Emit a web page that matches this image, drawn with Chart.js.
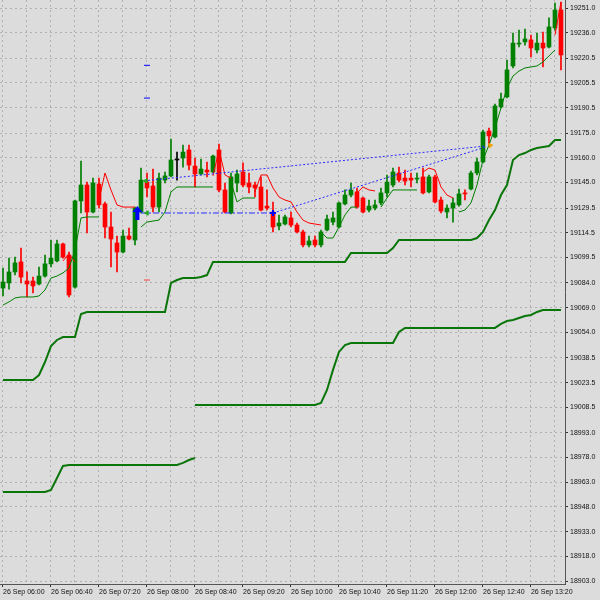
<!DOCTYPE html>
<html><head><meta charset="utf-8">
<script src="https://cdn.jsdelivr.net/npm/chart.js@4.4.0/dist/chart.umd.min.js"></script>
<style>html,body{margin:0;padding:0;background:#dcdcdc;}#wrap{width:600px;height:600px;position:relative;}</style>
</head><body><div id="wrap"><canvas id="c"></canvas></div>
<script>
// ---- candle data (5-minute bars, 26 Sep 06:00 onward) ----
const open=[19080.9,19084.0,19090.7,19096.8,19085.2,19085.2,19083.4,19088.2,19095.6,19097.4,
19107.7,19101.0,19081.5,19133.8,19143.5,19127.1,19144.1,19132.0,19118.0,19108.3,
19102.8,19112.5,19110.1,19127.1,19145.3,19142.9,19130.1,19146.5,19149.0,19158.7,
19159.9,19164.8,19155.0,19150.2,19152.6,19151.4,19164.8,19140.5,19126.5,19144.7,
19151.4,19144.7,19143.5,19142.3,19130.7,19127.1,19118.6,19119.8,19123.5,19119.2,
19115.0,19107.1,19110.1,19107.1,19116.2,19121.0,19118.0,19132.0,19137.4,19139.3,
19135.6,19128.3,19129.5,19132.6,19138.7,19143.5,19150.8,19147.7,19147.7,19147.1,
19148.4,19139.3,19148.4,19134.4,19127.1,19129.5,19131.4,19138.7,19141.1,19150.8,
19157.5,19176.3,19172.7,19190.9,19197.0,19215.8,19229.1,19230.4,19231.6,19225.5,
19229.7,19227.3,19238.9,19249.8];
const close=[19084.6,19090.7,19096.2,19087.6,19083.4,19082.2,19088.2,19095.6,19099.1,19107.7,
19099.7,19076.7,19133.8,19143.5,19127.1,19144.7,19131.4,19118.0,19110.7,19102.8,
19112.5,19110.7,19129.5,19146.5,19141.7,19130.1,19147.7,19149.0,19158.7,19158.7,
19163.5,19155.6,19150.2,19153.2,19151.4,19161.1,19140.5,19127.1,19148.4,19150.2,
19143.5,19142.3,19141.7,19128.3,19129.5,19118.0,19120.4,19124.1,19119.2,19115.0,
19107.1,19109.5,19107.1,19115.0,19122.8,19123.5,19132.6,19137.4,19140.5,19130.1,
19127.1,19130.7,19131.4,19138.7,19145.3,19151.4,19146.5,19145.9,19146.5,19147.7,
19138.7,19148.4,19133.2,19127.7,19129.5,19132.6,19138.1,19138.1,19150.8,19157.5,
19175.7,19173.3,19191.5,19195.7,19213.4,19229.7,19229.7,19232.2,19226.7,19229.7,
19226.7,19239.5,19249.8,19222.5];
const high=[19093.1,19099.1,19099.7,19105.2,19090.7,19087.6,19093.7,19101.0,19110.1,19110.1,
19108.3,19102.8,19134.4,19158.1,19145.3,19147.7,19147.7,19133.2,19127.1,19112.5,
19116.2,19117.4,19130.1,19153.8,19150.8,19153.2,19150.8,19151.4,19171.4,19163.5,
19167.8,19167.8,19159.9,19159.3,19157.5,19161.7,19168.4,19144.7,19150.8,19152.6,
19156.9,19150.8,19145.3,19148.4,19140.5,19133.2,19125.3,19125.3,19127.1,19120.4,
19116.2,19112.5,19112.5,19116.2,19125.3,19127.1,19133.2,19140.5,19144.7,19141.7,
19136.2,19134.4,19134.4,19141.7,19149.6,19153.8,19154.4,19152.6,19150.8,19150.8,
19153.8,19149.6,19149.6,19136.2,19131.4,19135.6,19141.1,19140.5,19152.0,19159.9,
19176.9,19178.1,19192.7,19199.4,19219.4,19235.8,19237.6,19238.2,19234.6,19235.8,
19236.4,19245.0,19254.0,19254.6];
const low=[19076.1,19080.3,19088.9,19084.0,19075.5,19077.9,19082.8,19087.6,19093.7,19096.8,
19099.1,19075.5,19080.9,19126.5,19114.4,19126.5,19129.5,19111.3,19093.7,19090.7,
19102.2,19110.1,19107.1,19126.5,19136.2,19127.1,19127.1,19144.7,19148.4,19146.5,
19154.4,19152.6,19142.3,19149.6,19148.4,19150.8,19139.3,19126.5,19125.9,19139.3,
19142.3,19138.7,19136.2,19127.7,19128.3,19115.0,19116.2,19119.2,19118.0,19114.4,
19105.9,19105.9,19105.9,19105.9,19115.6,19119.2,19117.4,19131.4,19136.2,19129.5,
19126.5,19127.1,19128.3,19131.4,19136.2,19142.3,19145.3,19143.5,19142.3,19144.7,
19138.1,19138.7,19132.6,19126.5,19123.5,19121.0,19130.7,19134.4,19140.5,19149.6,
19156.9,19166.6,19172.1,19190.3,19196.4,19214.6,19227.3,19228.5,19221.3,19223.7,
19215.2,19226.7,19237.6,19213.4];

// ---- indicator lines ----
const bandTop=[19025.1,19025.1,19025.1,19025.1,19025.1,19025.1,19028.1,19036.0,19045.7,19049.4,
19051.2,19051.2,19051.2,19065.2,19066.4,19066.4,19066.4,19066.4,19066.4,19066.4,
19066.4,19066.4,19066.4,19066.4,19066.4,19066.4,19066.4,19066.4,19084.0,19085.8,
19087.0,19087.0,19087.0,19087.6,19088.8,19096.8,19096.8,19096.8,19096.8,19096.8,
19096.8,19096.8,19096.8,19096.8,19096.8,19096.8,19096.8,19096.8,19096.8,19096.8,
19096.8,19096.8,19096.8,19096.8,19096.8,19096.8,19096.8,19096.8,19102.2,19102.2,
19102.2,19102.2,19102.2,19102.2,19102.2,19105.2,19110.1,19110.1,19110.1,19110.1,
19110.1,19110.1,19110.1,19110.1,19110.1,19110.1,19110.1,19110.1,19110.1,19111.3,
19115.0,19122.2,19128.3,19137.4,19143.5,19158.7,19161.7,19162.9,19164.8,19166.0,
19166.6,19167.2,19170.8,19170.8];
const bandLow=[18957.1,18957.1,18957.1,18957.1,18957.1,18957.1,18957.1,18957.1,18958.3,18965.6,
18972.9,18973.5,18973.5,18973.5,18973.5,18973.5,18973.5,18973.5,18973.5,18973.5,
18973.5,18973.5,18973.5,18973.5,18973.5,18973.5,18973.5,18973.5,18973.5,18973.5,
18974.7,18976.5,18977.7,null,null,null,null,null,null,null,
null,null,null,null,null,null,null,null,null,null,
null,null,null,null,null,null,null,null,null,null,
null,null,null,null,null,null,null,null,null,null,
null,null,null,null,null,null,null,null,null,null,
null,null,null,null,null,null,null,null,null,null,
null,null,null,null];
const bandMid=[null,null,null,null,null,null,null,null,null,null,
null,null,null,null,null,null,null,null,null,null,
null,null,null,null,null,null,null,null,null,null,
null,null,19009.9,19009.9,19009.9,19009.9,19009.9,19009.9,19009.9,19009.9,
19009.9,19009.9,19009.9,19009.9,19009.9,19009.9,19009.9,19009.9,19009.9,19009.9,
19009.9,19009.9,19009.9,19011.1,19019.0,19031.2,19042.1,19046.3,19047.5,19047.5,
19047.5,19047.5,19047.5,19047.5,19047.5,19047.5,19054.2,19056.7,19056.7,19056.7,
19056.7,19056.7,19056.7,19056.7,19056.7,19056.7,19056.7,19056.7,19056.7,19056.7,
19056.7,19056.7,19056.7,19059.1,19060.9,19061.5,19062.7,19063.9,19064.6,19066.4,
19067.6,19067.6,19067.6,19067.6];
const trendUp=[19070.6,19072.5,19074.9,19075.5,19075.5,19075.5,19076.1,19079.7,19087.0,19088.2,
19090.1,19093.1,19104.0,19123.5,19124.1,19124.1,19124.1,null,null,null,
null,null,null,19118.0,19121.0,19121.6,19122.2,19127.1,19139.3,19142.3,
19142.3,19142.3,19142.3,19142.3,19142.3,19142.3,null,null,19145.3,19133.2,
19135.6,19135.6,19135.6,null,null,null,null,null,null,null,
null,null,null,19115.0,19111.3,19111.3,19118.0,19125.3,19130.1,19130.1,
null,null,null,19130.1,19135.6,19140.5,19140.5,19140.5,19140.5,19140.5,
null,null,null,null,null,null,19127.1,19128.3,19132.6,19143.5,
19158.7,19167.8,19178.1,19190.3,19202.4,19209.7,19212.7,19214.6,19215.2,19215.8,
19218.2,19221.9,19225.5,null];
const trendDown=[null,null,null,null,null,null,null,null,null,null,
19097.4,19101.6,19096.8,null,null,null,19134.4,19150.8,19140.5,19131.4,
19130.1,19130.1,19130.1,null,null,null,null,null,null,null,
null,null,null,null,null,19149.0,19164.8,19149.6,19147.7,null,
null,null,19139.3,19149.6,19149.6,19141.7,19136.2,19134.4,19133.2,19127.1,
19122.2,19120.4,19119.8,19119.2,null,null,null,null,null,19138.7,
19142.3,19140.5,19139.9,null,null,null,null,null,null,null,
19151.4,19153.8,19152.6,19142.3,19137.4,19135.6,null,null,null,null,
null,null,null,null,null,null,null,null,null,null,
null,null,19234.6,19254.6];

// ---- chart objects (anchors: candle index, price) ----
const hLine=[{x:23,y:19126.5},{x:45,y:19126.5}];
const trend1=[{x:23.5,y:19146.0},{x:80.5,y:19167.2}];
const trend2=[{x:45,y:19126.5},{x:80.5,y:19166.6}];
const crossMark=[{x:45,y:19126.5}];
const greenMarks=[{x:23.8,y:19146.0},{x:24.0,y:19126.5}];
const orangeMark=[{x:81.2,y:19167.5}];
const blueDashes=[{x:24,y:19216.2},{x:24,y:19196.3}];
const redDash=[{x:24,y:19085.8}];
const arrowUp={x:22.4,y:19130.8};

// ---- axes ----
const yTickValues=[19251.0,19236.0,19220.5,19205.5,19190.5,19175.0,19160.0,19145.0,19129.5,19114.5,19099.5,19084.0,19069.0,19054.0,19038.5,19023.5,19008.5,18993.0,18978.0,18963.0,18948.0,18933.0,18918.0,18903.0];
const xTickLabels=['26 Sep 06:00','26 Sep 06:40','26 Sep 07:20','26 Sep 08:00','26 Sep 08:40','26 Sep 09:20','26 Sep 10:00','26 Sep 10:40','26 Sep 11:20','26 Sep 12:00','26 Sep 12:40','26 Sep 13:20'];
const xGridStep=4, xLabelStep=8;

const GREEN='#008000', RED='#ff0000', BAND='#0a760a';
const idx=open.map((_,i)=>i);
const cColor=idx.map(i=>close[i]>open[i]?GREEN:(close[i]<open[i]?RED:'#000000'));
const toXY=arr=>arr.map((v,i)=>({x:i,y:v}));
const xGridTicks=[];for(let v=0;v<open.length;v+=xGridStep)xGridTicks.push(v);

const FONT={family:'Liberation Sans',size:7};
const bg={id:'bg',beforeDraw(c){const x=c.ctx;x.save();x.fillStyle='#dcdcdc';x.fillRect(0,0,c.width,c.height);x.restore();}};
const arrowPlugin={id:'arrow',afterDatasetsDraw(c){
  const x=c.scales.x.getPixelForValue(arrowUp.x), y=c.scales.y.getPixelForValue(arrowUp.y);
  const g=c.ctx;g.save();g.fillStyle='#0000ff';g.beginPath();
  g.moveTo(x,y);g.lineTo(x+5,y+6);g.lineTo(x+2,y+6);g.lineTo(x+2,y+14);g.lineTo(x-2,y+14);g.lineTo(x-2,y+6);g.lineTo(x-5,y+6);g.closePath();g.fill();g.restore();}};

const lineDs=(data,color,width,order,extra)=>Object.assign({type:'line',data,borderColor:color,borderWidth:width,pointRadius:0,tension:0,spanGaps:false,order,fill:false},extra||{});
const markDs=(data,style,color,r,rot,order,bw)=>({type:'line',data,showLine:false,pointStyle:style,pointRadius:r,pointRotation:rot||0,pointBorderColor:color,pointBackgroundColor:color,pointBorderWidth:bw||1,order});

new Chart(document.getElementById('c'),{
  type:'bar',
  data:{datasets:[
    lineDs(toXY(bandTop),BAND,2,20),
    lineDs(toXY(bandMid),BAND,2,20),
    lineDs(toXY(bandLow),BAND,2,20),
    {type:'bar',data:idx.map(i=>({x:i,y:[low[i],high[i]]})),backgroundColor:cColor,barThickness:1,grouped:false,borderWidth:0,order:15},
    {type:'bar',data:idx.map(i=>({x:i,y:[open[i],close[i]]})),backgroundColor:cColor,barThickness:4,grouped:false,borderWidth:0,minBarLength:1,order:14},
    lineDs(toXY(trendUp),GREEN,1,8),
    lineDs(toXY(trendDown),RED,1,8),
    lineDs(hLine,'#2a2aff',1,5,{borderDash:[6,2,2,2]}),
    lineDs(trend1,'#2a2aff',1,5,{borderDash:[2,2]}),
    lineDs(trend2,'#2a2aff',1,5,{borderDash:[2,2]}),
    markDs(crossMark,'cross','#0000ff',3,0,3,2),
    markDs(greenMarks,'triangle','#22aa22',2.5,-90,3),
    markDs(orangeMark,'triangle','#f0a000',2.5,200,3),
    markDs(blueDashes,'line','#0000ff',3,0,3),
    markDs(redDash,'line','#ff4040',3,0,3)
  ]},
  options:{
    responsive:true,maintainAspectRatio:false,animation:false,
    layout:{padding:0,autoPadding:false},
    plugins:{legend:{display:false},tooltip:{enabled:false}},
    scales:{
      x:{type:'linear',min:-0.5,max:93.67,offset:false,
        afterBuildTicks:s=>{s.ticks=xGridTicks.map(v=>({value:v}));},
        afterFit:s=>{s.height=16;s.paddingLeft=0;s.paddingRight=0;s.paddingTop=0;s.paddingBottom=0;},
        ticks:{autoSkip:false,maxRotation:0,minRotation:0,align:'start',padding:1,font:FONT,color:'#111',
          callback:v=>(v%xLabelStep===0?xTickLabels[v/xLabelStep]:'')},
        grid:{offset:false,color:'#b0b0b0',lineWidth:1,tickLength:3,
          tickColor:ctx=>(ctx.tick&&ctx.tick.value%xLabelStep===0?'#333':'rgba(0,0,0,0)')},
        border:{display:true,color:'#555',width:1,dash:[2,3]}},
      y:{type:'linear',position:'right',min:18901.18,max:19255.86,beginAtZero:false,
        afterBuildTicks:s=>{s.ticks=yTickValues.map(v=>({value:v}));},
        afterFit:s=>{s.width=35;s.paddingLeft=0;s.paddingRight=0;s.paddingTop=0;s.paddingBottom=0;},
        ticks:{autoSkip:false,padding:2,font:FONT,color:'#111',callback:v=>Number(v).toFixed(1)},
        grid:{color:'#b0b0b0',lineWidth:1,tickLength:3,tickColor:'#333'},
        border:{display:true,color:'#555',width:1,dash:[2,3]}}
    }
  },
  plugins:[bg,arrowPlugin]
});
</script></body></html>
